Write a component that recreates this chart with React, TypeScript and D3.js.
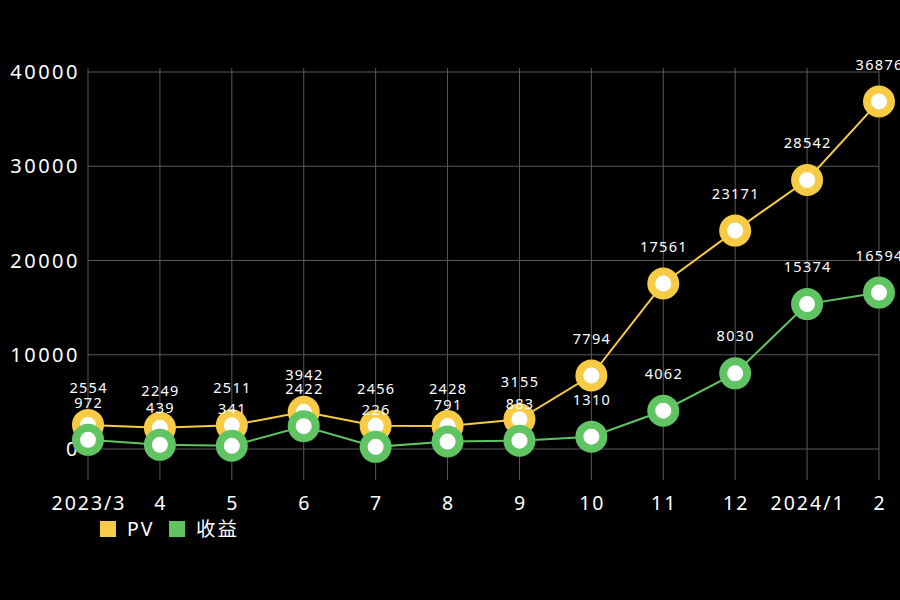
import React from "react";
import * as d3 from "d3";

const categories = ["2023/3", "4", "5", "6", "7", "8", "9", "10", "11", "12", "2024/1", "2"];
const pvValues = [2554, 2249, 2511, 3942, 2456, 2428, 3155, 7794, 17561, 23171, 28542, 36876];
const revenueValues = [972, 439, 341, 2422, 226, 791, 883, 1310, 4062, 8030, 15374, 16594];
const yTicks = [0, 10000, 20000, 30000, 40000];
const seriesNames = ["PV", "收益"];
const seriesColors = ["#F8CB45", "#60C462"];

const W = 900;
const H = 600;
const left = 88;
const right = 879;
const top = 72;
const bottom = 449;
const FONT = "'Noto Sans', 'Noto Sans CJK SC', sans-serif";

export default function App() {
  const x = d3.scalePoint<string>().domain(categories).range([left, right]);
  const y = d3.scaleLinear().domain([0, 40000]).range([bottom, top]);
  const line = d3
    .line<number>()
    .x((_, i) => x(categories[i]) as number)
    .y((d) => y(d));
  const series = [pvValues, revenueValues];

  return (
    <svg
      width={W}
      height={H}
      style={{ position: "absolute", left: 0, top: 0, background: "#000", display: "block" }}
      fontFamily={FONT}
    >
      <rect x={0} y={0} width={W} height={H} fill="#000" />
      {yTicks.map((t) => (
        <line key={"h" + t} x1={left} x2={right} y1={y(t)} y2={y(t)} stroke="#585858" strokeWidth={1} />
      ))}
      {categories.map((c) => (
        <line key={"v" + c} x1={x(c)} x2={x(c)} y1={top - 4} y2={480} stroke="#585858" strokeWidth={1} />
      ))}
      {yTicks.map((t) => (
        <text key={"yl" + t} x={80} y={y(t)} dy="0.35em" textAnchor="end" fill="#fff" fontSize={20} letterSpacing={2.5}>
          {t}
        </text>
      ))}
      {categories.map((c) => (
        <text key={"xl" + c} x={(x(c) as number) + 1} y={503} dy="0.35em" textAnchor="middle" fill="#fff" fontSize={19.5} letterSpacing={2}>
          {c}
        </text>
      ))}
      {series.map((s, si) => (
        <path key={"l" + si} d={line(s) as string} fill="none" stroke={seriesColors[si]} strokeWidth={2} />
      ))}
      {series.map((s, si) => (
        <g key={"m" + si}>
          {s.map((v, i) => (
            <circle
              key={i}
              cx={x(categories[i])}
              cy={y(v)}
              r={12}
              fill="#fff"
              stroke={seriesColors[si]}
              strokeWidth={8}
            />
          ))}
        </g>
      ))}
      {series.map((s, si) => (
        <g key={"t" + si}>
          {s.map((v, i) => (
            <text
              key={i}
              x={(x(categories[i]) as number) + 0.6}
              y={y(v) - 37}
              dy="0.35em"
              textAnchor="middle"
              fill="#fff"
              fontSize={14.5}
              letterSpacing={1.3}
            >
              {v}
            </text>
          ))}
        </g>
      ))}
      {seriesNames.map((n, i) => {
        const lx = i === 0 ? 100 : 169;
        return (
          <g key={"lg" + n}>
            <rect x={lx} y={521} width={16} height={16} fill={seriesColors[i]} />
            <text x={lx + 27} y={529} dy="0.35em" fill="#fff" fontSize={19.5} letterSpacing={2}>
              {n}
            </text>
          </g>
        );
      })}
    </svg>
  );
}
